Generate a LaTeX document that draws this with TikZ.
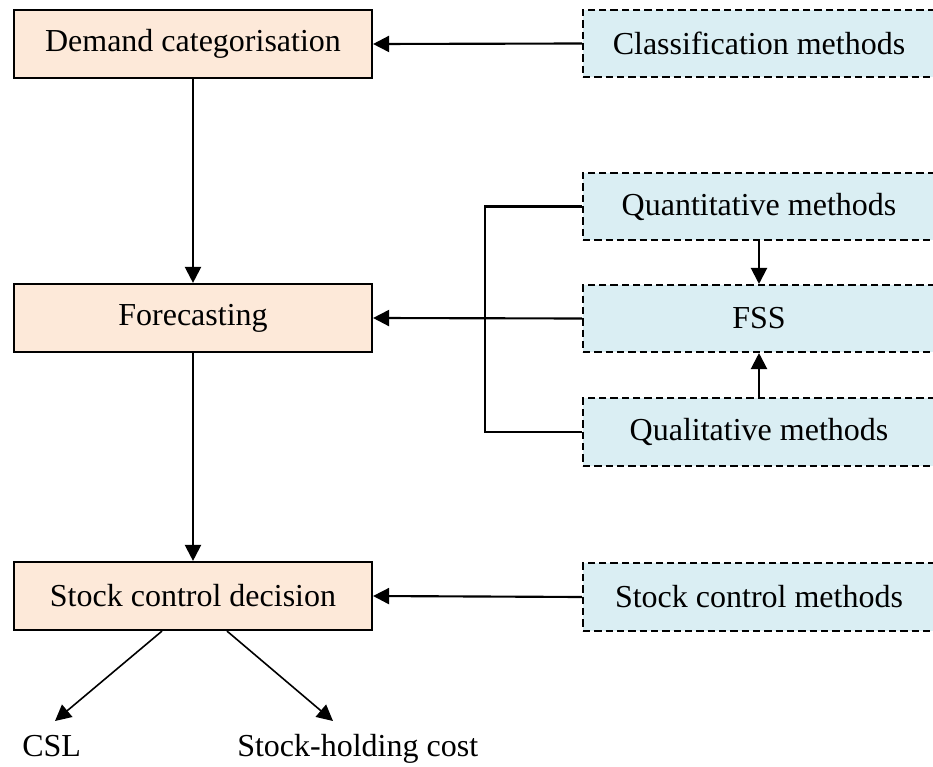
\documentclass[tikz,border=0pt]{standalone}
\usepackage{fontspec}
\setmainfont{Liberation Serif}
\usetikzlibrary{arrows.meta,calc}
\definecolor{peach}{HTML}{FDE9D9}
\definecolor{aqua}{HTML}{DAEEF3}
\begin{document}
\begin{tikzpicture}[x=0.75pt,y=-0.75pt,
  every node/.style={font=\fontsize{24}{28}\selectfont},
  mainbox/.style={draw=black,fill=peach,line width=1.6pt,minimum width=268.5pt,minimum height=51pt,inner sep=0pt},
  methbox/.style={draw=black,fill=aqua,line width=1.3pt,dash pattern=on 5.5pt off 3pt,minimum width=264pt,minimum height=50.5pt,inner sep=0pt},
  conn/.style={line width=1.6pt,-{Triangle[length=12pt,width=12pt]}},
  thin/.style={line width=1.2pt,-{Triangle[length=12pt,width=12pt]}},
  plain/.style={line width=1.6pt}]
\useasboundingbox (0,0) rectangle (933,767);
% left column
\node[mainbox] (demand) at (193,44) {Demand categorisation};
\node[mainbox] (fore) at (193,318) {Forecasting};
\node[mainbox] (dec) at (193,596) {Stock control decision};
% right column
\node[methbox] (class) at (759,43.5) {Classification methods};
\node[methbox] (quant) at (759,206.5) {Quantitative methods};
\node[methbox] (fss) at (759,318.5) {FSS};
\node[methbox] (qual) at (759,432) {Qualitative methods};
\node[methbox] (scm) at (759,597) {Stock control methods};
% outputs
\node[anchor=base west,inner sep=0pt] (csl) at (22,756) {CSL};
\node[anchor=base west,inner sep=0pt] (shc) at (237,756) {Stock-holding cost};
\coordinate (csltip) at (55,721);
\coordinate (shctip) at (333,721);
\coordinate (bx) at (485,0);
% connectors
\draw[conn] (demand.south) -- (fore.north);
\draw[conn] (fore.south) -- (dec.north);
\draw[conn] (class.west) -- (demand.east);
\draw[conn] (fss.west) -- (fore.east);
\draw[conn] (scm.west) -- (dec.east);
\draw[conn] (quant.south) -- (fss.north);
\draw[conn] (qual.north) -- (fss.south);
\draw[plain] (quant.west) -- (quant.west -| bx) -- (qual.west -| bx) -- (qual.west);
\draw[thin] ($(dec.south)+(-31,0)$) -- (csltip);
\draw[thin] ($(dec.south)+(34,0)$) -- (shctip);
\end{tikzpicture}
\end{document}
